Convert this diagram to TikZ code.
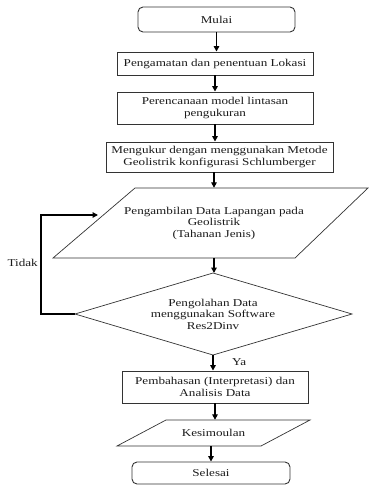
\documentclass[tikz,border=0pt]{standalone}
\usepackage{fontspec}
\setmainfont{Liberation Serif}[FakeStretch=1.25]
\usetikzlibrary{arrows.meta}
\definecolor{boxcol}{HTML}{333333}
\definecolor{txtcol}{HTML}{1A1A1A}
\newcommand{\txtfont}{\fontsize{10.5}{11.5}\selectfont}
\tikzset{
  lbl/.style={inner sep=0pt, align=center, font=\txtfont, text=txtcol},
  procbox/.style={lbl, draw=boxcol, line width=0.9pt},
  termbox/.style={procbox, rounded corners=5pt},
  ioline/.style={draw=boxcol, line width=0.7pt, line join=miter},
  flow/.style={line width=1.5pt, -{Triangle[length=5.5pt,width=5.5pt]}},
  loopline/.style={line width=1.8pt, -{Triangle[length=5.5pt,width=5.5pt]}}
}
\begin{document}
\begin{tikzpicture}[x=1pt,y=-1pt]
\useasboundingbox (0,0) rectangle (370,485);
% nodes
\node[termbox, minimum width=157pt, minimum height=25pt] (mulai) at (216.5,19.5) {Mulai};
\node[procbox, minimum width=196pt, minimum height=23pt] (lokasi) at (215,63.5) {Pengamatan dan penentuan Lokasi};
\node[procbox, minimum width=196pt, minimum height=32pt] (model) at (215,108) {Perencanaan model lintasan\\pengukuran};
\node[procbox, minimum width=227pt, minimum height=30pt] (ukur) at (219.5,157) {Mengukur dengan menggunakan Metode\\Geolistrik konfigurasi Schlumberger};
% parallelogram 1
\coordinate (pa) at (135,188);
\coordinate (pb) at (368,188);
\coordinate (pc) at (295,258);
\coordinate (pd) at (53,258);
\draw[ioline] (pa) -- (pb) -- (pc) -- (pd) -- cycle;
\node[lbl, minimum height=70pt] (ambil) at (214,223) {Pengambilan Data Lapangan pada\\Geolistrik\\(Tahanan Jenis)};
% decision
\coordinate (dt) at (213,273);
\coordinate (dr) at (352,314);
\coordinate (db) at (213,355);
\coordinate (dl) at (75,314);
\draw[ioline] (dt) -- (dr) -- (db) -- (dl) -- cycle;
\node[lbl] (olah) at (213,314) {Pengolahan Data\\menggunakan Software\\Res2Dinv};
\node[procbox, minimum width=186pt, minimum height=32pt] (bahas) at (215,387) {Pembahasan (Interpretasi) dan\\Analisis Data};
% parallelogram 2
\coordinate (ka) at (166,420);
\coordinate (kb) at (310,420);
\coordinate (kc) at (261,446);
\coordinate (kd) at (117,446);
\draw[ioline] (ka) -- (kb) -- (kc) -- (kd) -- cycle;
\node[lbl, minimum height=26pt] (simpul) at (213.5,433) {Kesimoulan};
\node[termbox, minimum width=158pt, minimum height=22pt] (selesai) at (211,473) {Selesai};
% labels
\node[lbl, anchor=east] (tidak) at (38,263) {Tidak};
\node[lbl, anchor=west] (ya) at (232,362) {Ya};
% connectors
\draw[flow] (mulai.south) -- (mulai.south |- lokasi.north);
\draw[flow] (lokasi.south) -- (lokasi.south |- model.north);
\draw[flow] (model.south) -- (model.south |- ukur.north);
\draw[flow] (ambil.north |- ukur.south) -- (ambil.north);
\draw[flow] (ambil.south) -- (ambil.south |- dt);
\draw[flow] (db) -- (db |- bahas.north);
\draw[flow] (bahas.south) -- (bahas.south |- simpul.north);
\draw[flow] (selesai.north |- simpul.south) -- (selesai.north);
% loop back
\coordinate (lc) at (41,314);
\coordinate (lp) at (98,215);
\draw[loopline] (dl) -- (lc) |- (lp);
\end{tikzpicture}
\end{document}
